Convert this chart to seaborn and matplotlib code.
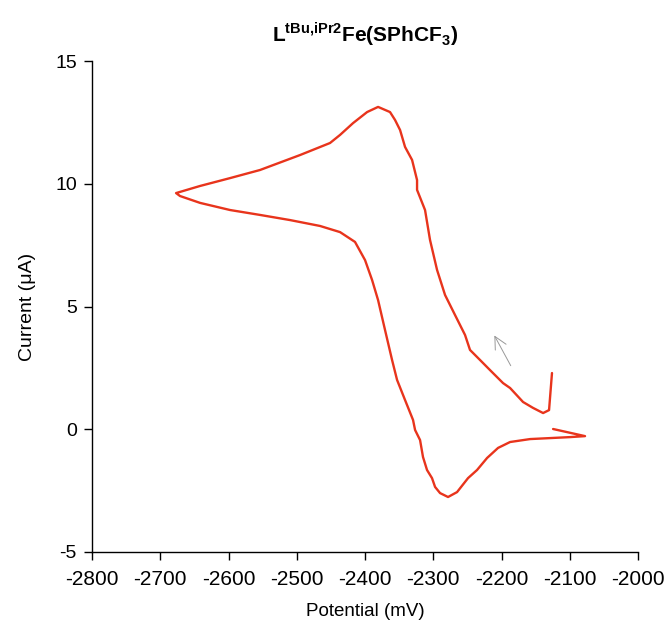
import matplotlib
matplotlib.use("Agg")
import matplotlib.pyplot as plt
import seaborn as sns
import pandas as pd

# Cyclic voltammogram trace (mV, µA), in scan order
potential_mv = [-2126.1, -2130.4, -2139.1, -2153.9, -2168.5, -2187.5, -2197.8, -2216.9,
                -2231.5, -2246.2, -2253.5, -2268.1, -2282.8, -2294.5, -2304.8, -2312.1,
                -2323.8, -2323.8, -2331.1, -2341.4, -2348.7, -2356.1, -2363.4, -2380.9,
                -2397.0, -2417.6, -2436.6, -2451.3, -2495.2, -2553.9, -2597.8, -2641.7,
                -2676.9,
                -2671.1, -2641.7, -2597.8, -2553.9, -2509.8, -2465.9, -2436.6, -2414.7,
                -2400.0, -2389.7, -2380.9, -2370.7, -2360.4, -2353.1, -2341.4, -2329.7,
                -2326.7, -2319.4, -2315.1, -2309.2, -2301.9, -2297.4, -2290.1, -2278.4,
                -2265.2, -2249.1, -2235.9, -2221.2, -2205.1, -2187.5, -2158.2, -2128.9,
                -2099.7, -2077.7, -2124.5]
current_ua = [2.29, 0.78, 0.66, 0.87, 1.11, 1.68, 1.88, 2.41,
              2.82, 3.23, 3.84, 4.65, 5.47, 6.49, 7.71, 8.93,
              9.75, 10.15, 10.97, 11.50, 12.19, 12.60, 12.92, 13.13,
              12.92, 12.47, 11.99, 11.66, 11.17, 10.56, 10.23, 9.91,
              9.62,
              9.50, 9.22, 8.93, 8.73, 8.52, 8.28, 8.03, 7.63,
              6.89, 6.08, 5.26, 4.04, 2.82, 2.01, 1.19, 0.38,
              -0.03, -0.44, -1.13, -1.66, -1.99, -2.35, -2.60, -2.76,
              -2.56, -1.99, -1.66, -1.17, -0.76, -0.52, -0.40, -0.36,
              -0.32, -0.28, 0.01]

# scan-direction arrow (tail -> head)
arrow_tail = (-2184.6, 2.49)
arrow_head = (-2212.5, 3.92)

x_ticks = [-2800, -2700, -2600, -2500, -2400, -2300, -2200, -2100, -2000]
y_ticks = [-5, 0, 5, 10, 15]

sns.set_theme(style="ticks")
plt.rcParams["font.family"] = ["Liberation Sans", "DejaVu Sans"]
plt.rcParams["mathtext.fontset"] = "custom"
plt.rcParams["mathtext.rm"] = "Liberation Sans"
plt.rcParams["mathtext.bf"] = "Liberation Sans:bold"
plt.rcParams["axes.unicode_minus"] = False

df = pd.DataFrame({"Potential": potential_mv, "Current": current_ua})

fig = plt.figure(figsize=(6.67, 6.25), dpi=100)
ax = fig.add_axes([0.138, 0.1168, 0.8186, 0.7856])

sns.lineplot(data=df, x="Potential", y="Current", sort=False, estimator=None,
             color="#e8341c", linewidth=1.7, ax=ax)

ax.annotate("", xy=arrow_head, xytext=arrow_tail,
            arrowprops=dict(arrowstyle="->", color="#999999", lw=0.7,
                            mutation_scale=22))

ax.set_xlim(-2800, -2000)
ax.set_ylim(-5, 15)
ax.set_xticks(x_ticks)
ax.set_yticks(y_ticks)
ax.tick_params(axis="both", length=6, width=1, color="black",
               labelcolor="black", direction="out")
ax.tick_params(axis="x", labelsize=15, pad=7)
ax.tick_params(axis="y", labelsize=14, pad=5)
for s in ["top", "right"]:
    ax.spines[s].set_visible(False)
for s in ["left", "bottom"]:
    ax.spines[s].set_color("black")
    ax.spines[s].set_linewidth(1)

ax.set_xlabel("Potential (mV)", fontsize=13.5, labelpad=10, color="black")
ax.set_ylabel("Current (μA)", fontsize=14, labelpad=14, color="black")
ax.set_title(r"$\mathbf{L}^{\mathbf{tBu{,}iPr2}}\mathbf{Fe(SPhCF}_{\mathbf{3}}\mathbf{)}$",
             fontsize=15, pad=14, color="black")

fig.savefig("out.png", dpi=100)
